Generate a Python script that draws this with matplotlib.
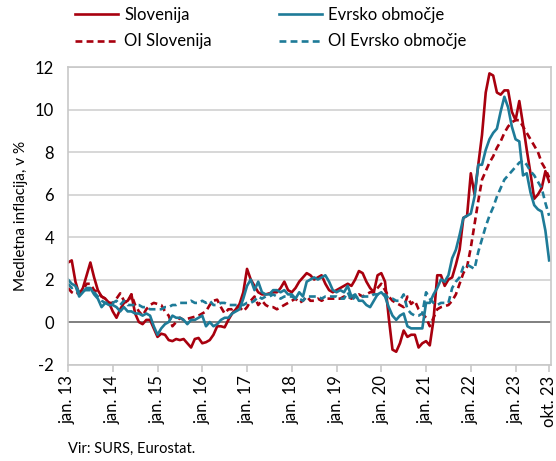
import numpy as np
import matplotlib
matplotlib.use("Agg")
import matplotlib.pyplot as plt

plt.rcParams['font.family'] = ['Lato', 'DejaVu Sans']
plt.rcParams['axes.unicode_minus'] = False

# monthly values, jan 2013 - okt 2023
slovenija = [
    2.8, 2.9, 1.9, 1.3, 1.6, 2.2, 2.8, 2.1, 1.5, 1.2, 1.1, 0.9,
    0.5, 0.2, 0.6, 0.9, 1.0, 1.3, 0.4, 0.0, -0.1, 0.1, 0.1, -0.3,
    -0.7, -0.55, -0.6, -0.85, -0.9, -0.8, -0.85, -0.8, -1.0, -1.2, -0.8, -0.75,
    -1.0, -0.95, -0.85, -0.6, -0.2, -0.2, -0.25, 0.1, 0.4, 0.6, 0.85, 1.4,
    2.5, 2.0, 1.7, 1.4, 1.3, 1.3, 1.35, 1.4, 1.4, 1.6, 1.9, 1.5,
    1.4, 1.6, 1.9, 2.1, 2.3, 2.2, 2.0, 2.1, 2.2, 1.8, 1.5, 1.4,
    1.5, 1.6, 1.7, 1.8, 1.7, 2.0, 2.4, 2.3, 1.9, 1.6, 1.4, 2.2,
    2.3, 1.9, 0.2, -1.3, -1.4, -1.0, -0.4, -0.7, -0.6, -0.6, -1.2, -1.0,
    -0.9, -1.1, 0.1, 2.2, 2.2, 1.7, 2.0, 2.1, 2.7, 3.4, 4.9, 5.0,
    7.0, 6.0, 7.4, 8.8, 10.8, 11.7, 11.6, 10.8, 10.7, 10.9, 10.9, 9.9,
    9.5, 10.4, 9.3, 8.1, 7.0, 5.8, 6.0, 6.3, 7.1, 6.6,
]
evro = [
    2.0, 1.8, 1.7, 1.2, 1.4, 1.6, 1.6, 1.3, 1.1, 0.7, 0.9, 0.8,
    0.8, 0.7, 0.5, 0.7, 0.5, 0.5, 0.4, 0.4, 0.3, 0.4, 0.3, -0.2,
    -0.6, -0.3, -0.1, 0.0, 0.3, 0.2, 0.2, 0.1, -0.1, 0.1, 0.1, 0.2,
    0.3, -0.2, 0.0, -0.2, -0.1, 0.1, 0.2, 0.2, 0.4, 0.5, 0.6, 1.1,
    1.7, 2.0, 1.5, 1.9, 1.4, 1.3, 1.3, 1.5, 1.5, 1.4, 1.5, 1.3,
    1.3, 1.1, 1.4, 1.2, 1.9, 2.0, 2.1, 2.0, 2.1, 2.2, 1.9, 1.5,
    1.4, 1.5, 1.4, 1.7, 1.2, 1.3, 1.0, 1.0, 0.8, 0.7, 1.0, 1.3,
    1.4, 1.2, 0.7, 0.3, 0.1, 0.3, 0.4, -0.2, -0.3, -0.3, -0.3, -0.3,
    0.9, 0.9, 1.3, 1.6, 2.0, 1.9, 2.2, 3.0, 3.4, 4.1, 4.9, 5.0,
    5.1, 5.9, 7.4, 7.4, 8.1, 8.6, 8.9, 9.1, 9.9, 10.6, 10.1, 9.2,
    8.6, 8.5, 6.9, 7.0, 6.1, 5.5, 5.3, 5.2, 4.3, 2.9,
]
oi_slovenija = [
    1.6, 1.4, 1.3, 1.4, 1.5, 1.8, 1.8, 1.5, 1.4, 1.2, 1.1, 0.9,
    0.9, 1.1, 1.35, 1.0, 0.9, 1.3, 0.8, 0.5, 0.3, 0.6, 0.8, 0.9,
    0.85, 0.8, 0.5, 0.3, -0.2, 0.0, 0.2, 0.1, 0.15, 0.2, 0.25, 0.3,
    0.4, 0.5, 0.8, 1.0, 1.05, 0.7, 0.4, 0.6, 0.6, 0.7, 0.7, 0.5,
    0.7, 1.0, 1.2, 0.8, 1.0, 0.8, 0.7, 0.7, 0.6, 0.7, 0.8, 0.9,
    1.0, 1.1, 0.9, 1.0, 1.2, 1.0, 1.0, 1.1, 1.0, 1.1, 1.1, 1.1,
    1.1, 1.1, 1.2, 1.2, 1.1, 1.2, 1.3, 1.2, 1.3, 1.4, 1.4, 1.6,
    1.8, 1.5, 1.2, 1.0, 0.9, 0.8, 0.7, 1.2, 0.85, 1.0, 0.6, 0.4,
    0.2, -0.2, 0.2, 0.6, 0.7, 0.75, 0.8, 1.0, 1.3, 1.8, 2.3, 2.6,
    3.5, 4.6, 5.7, 6.7, 7.1, 7.5, 7.8, 8.2, 8.5, 8.9, 9.2, 9.4,
    9.5, 9.5, 9.2, 8.9, 8.6, 8.3, 8.0, 7.5, 7.2, 6.8,
]
oi_evro = [
    1.8, 1.6, 1.7, 1.4, 1.5, 1.5, 1.5, 1.4, 1.2, 1.0, 0.9, 0.9,
    0.9, 1.0, 0.8, 1.0, 0.8, 0.8, 0.8, 0.8, 0.7, 0.7, 0.6, 0.6,
    0.6, 0.6, 0.7, 0.7, 0.8, 0.8, 0.9, 0.9, 0.9, 1.0, 0.9, 0.9,
    1.0, 0.9, 1.0, 0.8, 0.8, 0.9, 0.9, 0.8, 0.8, 0.8, 0.8, 0.8,
    0.9, 0.9, 1.0, 1.2, 1.1, 1.2, 1.2, 1.3, 1.2, 1.1, 1.2, 1.2,
    1.2, 1.1, 1.1, 1.0, 1.2, 1.2, 1.2, 1.2, 1.1, 1.2, 1.2, 1.2,
    1.2, 1.1, 1.1, 1.4, 1.0, 1.2, 1.1, 1.2, 1.2, 1.2, 1.3, 1.3,
    1.3, 1.3, 1.1, 1.1, 1.0, 1.0, 1.3, 0.6, 0.4, 0.3, 0.3, 0.4,
    1.4, 1.1, 0.9, 0.8, 0.9, 0.9, 0.9, 1.6, 1.9, 2.1, 2.6, 2.7,
    2.6, 2.5, 3.3, 3.9, 4.5, 5.0, 5.4, 5.9, 6.3, 6.7, 6.9, 7.1,
    7.3, 7.5, 7.6, 7.4, 7.1, 6.9, 6.6, 6.3, 5.6, 5.0,
]
tick_pos = [0, 12, 24, 36, 48, 60, 72, 84, 96, 108, 120, 129]
tick_labels = ['jan. 13', 'jan. 14', 'jan. 15', 'jan. 16', 'jan. 17', 'jan. 18',
               'jan. 19', 'jan. 20', 'jan. 21', 'jan. 22', 'jan. 23', 'okt. 23']

red = '#A8000E'
teal = '#1E7B98'
x = np.arange(len(slovenija))

fig = plt.figure(figsize=(5.56, 4.61), dpi=100)
ax = fig.add_axes([0.1223, 0.2093, 0.8687, 0.6453])

l1, = ax.plot(x, slovenija, color=red, lw=1.9, label='Slovenija')
l3, = ax.plot(x, oi_slovenija, color=red, lw=1.9, ls=(0, (2.6, 1.6)), label='OI Slovenija')
l2, = ax.plot(x, evro, color=teal, lw=1.9, label='Evrsko območje')
l4, = ax.plot(x, oi_evro, color=teal, lw=1.9, ls=(0, (2.6, 1.6)), label='OI Evrsko območje')

ax.set_xlim(0, 129.5)
ax.set_ylim(-2, 12)
ax.set_yticks(range(-2, 13, 2))
ax.grid(axis='y', color='#d4d4d4', lw=1.3)
ax.axhline(0, color='#808080', lw=1.4, zorder=1.5)
ax.set_axisbelow(True)
for s in ax.spines.values():
    s.set_color('#c8c8c8')
    s.set_linewidth(1.2)

ax.set_xticks(tick_pos)
ax.set_xticklabels(tick_labels, rotation=90, fontsize=12)
ax.tick_params(axis='x', length=5, color='#c8c8c8', width=1.2, pad=3)
ax.tick_params(axis='y', length=0, labelsize=12, pad=10)
ax.set_ylabel('Medletna inflacija, v %', fontsize=11, labelpad=5)

fig.legend(handles=[l1, l3, l2, l4], ncol=2, frameon=False, fontsize=12,
           loc='upper left', bbox_to_anchor=(0.108, 1.017), handlelength=2.6,
           handletextpad=0.35, columnspacing=4.0, labelspacing=0.62)

fig.text(0.122, 0.017, 'Vir: SURS, Eurostat.', fontsize=10.5)

fig.savefig('out.png', dpi=100)
